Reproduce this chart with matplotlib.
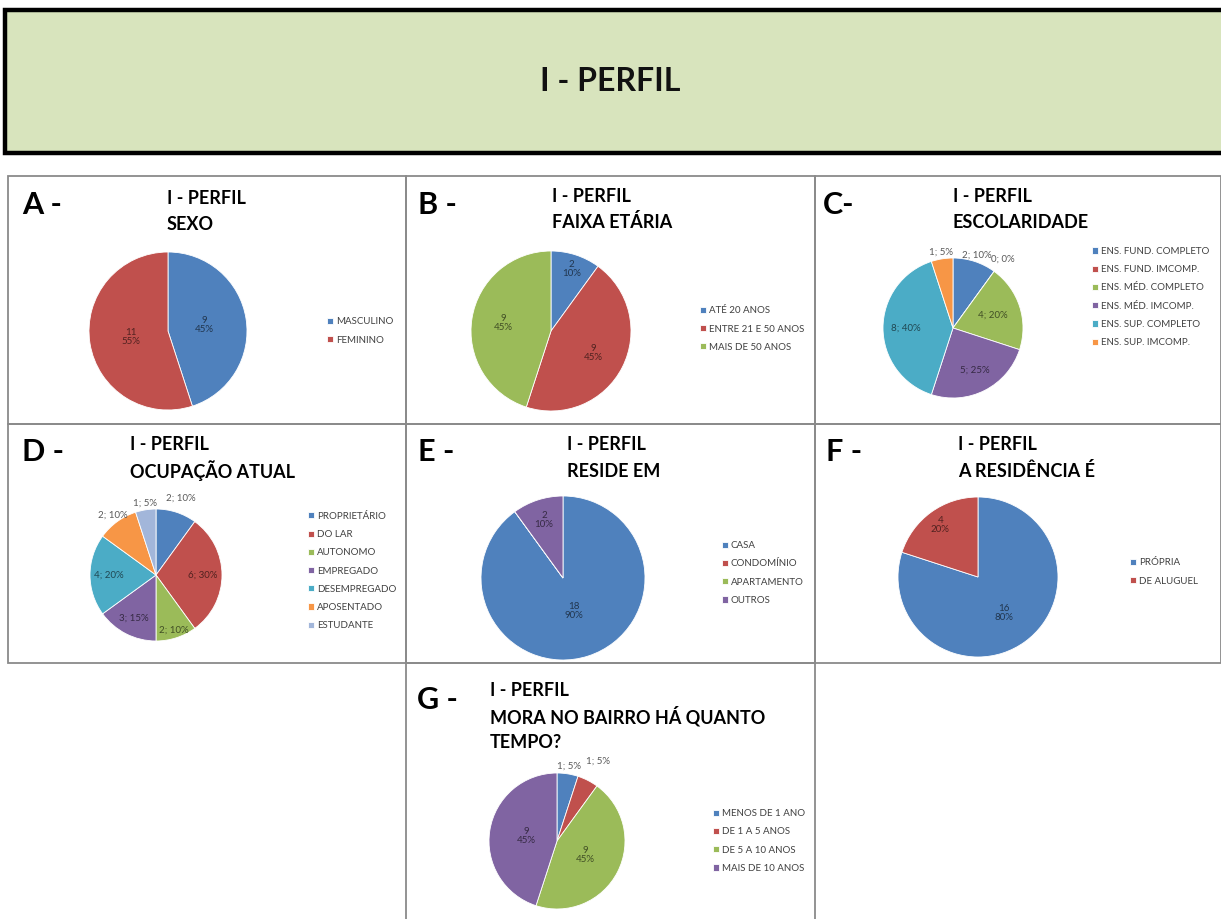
import numpy as np
import matplotlib
matplotlib.use("Agg")
import matplotlib.pyplot as plt
from matplotlib.patches import Rectangle
from matplotlib.colors import to_rgb

plt.rcParams['font.family'] = ['Lato', 'DejaVu Sans']

W, H = 1221, 919

# dados
sexo_labels = ['MASCULINO', 'FEMININO']
sexo_vals = [9, 11]

faixa_labels = ['ATÉ 20 ANOS', 'ENTRE 21 E 50 ANOS', 'MAIS DE 50 ANOS']
faixa_vals = [2, 9, 9]

escol_labels = ['ENS. FUND. COMPLETO', 'ENS. FUND. IMCOMP.', 'ENS. MÉD. COMPLETO',
                'ENS. MÉD. IMCOMP.', 'ENS. SUP. COMPLETO', 'ENS. SUP. IMCOMP.']
escol_vals = [2, 0, 4, 5, 8, 1]

ocup_labels = ['PROPRIETÁRIO', 'DO LAR', 'AUTONOMO', 'EMPREGADO',
               'DESEMPREGADO', 'APOSENTADO', 'ESTUDANTE']
ocup_vals = [2, 6, 2, 3, 4, 2, 1]

reside_labels = ['CASA', 'CONDOMÍNIO', 'APARTAMENTO', 'OUTROS']
reside_vals = [18, 0, 0, 2]

residencia_labels = ['PRÓPRIA', 'DE ALUGUEL']
residencia_vals = [16, 4]

tempo_labels = ['MENOS DE 1 ANO', 'DE 1 A 5 ANOS', 'DE 5 A 10 ANOS', 'MAIS DE 10 ANOS']
tempo_vals = [1, 1, 9, 9]

cores = ['#4F81BD', '#C0504D', '#9BBB59', '#8064A2', '#4BACC6', '#F79646', '#A2B6DA']


def fx(x):
    return x / W


def fy(y):
    return 1 - y / H


fig = plt.figure(figsize=(W / 100, H / 100), dpi=100)
fig.patch.set_facecolor('white')

# cabeçalho
fig.add_artist(Rectangle((fx(5), fy(153)), (W + 10) / W, 143 / H, transform=fig.transFigure,
                         facecolor='#D8E4BD', edgecolor='black', linewidth=3.2))
fig.text(fx(610), fy(82), 'I - PERFIL', ha='center', va='center',
         fontsize=23, fontweight='bold', color='#111111')

# molduras dos quadros
quadros = [(8, 176, 406, 424), (406, 176, 815, 424), (815, 176, 1221, 424),
           (8, 424, 406, 663), (406, 424, 815, 663), (815, 424, 1221, 663),
           (406, 663, 815, 925)]
for x0, y0, x1, y1 in quadros:
    fig.add_artist(Rectangle((fx(x0), fy(y1)), (x1 - x0) / W, (y1 - y0) / H,
                             transform=fig.transFigure, facecolor='none',
                             edgecolor='#8A8A8A', linewidth=1.3))

paineis = [
    dict(letra='A -', lpos=(22, 205), titulo=['I - PERFIL', 'SEXO'], tpos=(167, 198),
         vals=sexo_vals, labels=sexo_labels, c=(168, 331), r=79,
         dist=[0.47, 0.48], sep='\n', leg=(327, 331)),
    dict(letra='B -', lpos=(418, 205), titulo=['I - PERFIL', 'FAIXA ETÁRIA'], tpos=(552, 196),
         vals=faixa_vals, labels=faixa_labels, c=(551, 331), r=80,
         dist=[0.82, 0.6, 0.6], sep='\n', leg=(700, 329)),
    dict(letra='C-', lpos=(823, 205), titulo=['I - PERFIL', 'ESCOLARIDADE'], tpos=(953, 196),
         vals=escol_vals, labels=escol_labels, c=(953, 328), r=70,
         dist=[1.1, 1.22, 0.6, 0.68, 0.67, 1.1], sep='; ', leg=(1092, 297)),
    dict(letra='D -', lpos=(22, 452), titulo=['I - PERFIL', 'OCUPAÇÃO ATUAL'], tpos=(130, 445),
         vals=ocup_vals, labels=ocup_labels, c=(156, 575), r=66,
         dist=[1.22, 0.7, 0.88, 0.73, 0.72, 1.12, 1.1], sep='; ', leg=(308, 571)),
    dict(letra='E -', lpos=(418, 452), titulo=['I - PERFIL', 'RESIDE EM'], tpos=(567, 445),
         vals=reside_vals, labels=reside_labels, c=(563, 578), r=82,
         dist=[0.42, None, None, 0.75], sep='\n', leg=(722, 573)),
    dict(letra='F -', lpos=(826, 452), titulo=['I - PERFIL', 'A RESIDÊNCIA É'], tpos=(958, 445),
         vals=residencia_vals, labels=residencia_labels, c=(978, 577), r=80,
         dist=[0.55, 0.8], sep='\n', leg=(1130, 572)),
    dict(letra='G -', lpos=(417, 700), titulo=['I - PERFIL', 'MORA NO BAIRRO HÁ QUANTO', 'TEMPO?'],
         tpos=(490, 690), vals=tempo_vals, labels=tempo_labels, c=(557, 841), r=68,
         dist=[1.12, 1.32, 0.46, 0.46], sep='\n', leg=(713, 841)),
]

for p in paineis:
    fig.text(fx(p['lpos'][0]), fy(p['lpos'][1]), p['letra'], ha='left', va='center',
             fontsize=22, fontweight='bold', color='black')
    tx, ty = p['tpos']
    for i, linha in enumerate(p['titulo']):
        fig.text(fx(tx), fy(ty + 26 * i), linha, ha='left', va='center',
                 fontsize=13, fontweight='bold', color='black')

    cx, cy = p['c']
    r = p['r']
    ax = fig.add_axes([fx(cx - r), fy(cy + r), 2 * r / W, 2 * r / H])
    vals = p['vals']
    cs = cores[:len(vals)]
    wedges, _ = ax.pie(vals, colors=cs, startangle=90, counterclock=False, radius=1,
                       wedgeprops=dict(edgecolor='white', linewidth=0.6))
    ax.set_xlim(-1, 1)
    ax.set_ylim(-1, 1)

    total = sum(vals)
    for w, v, d, cor in zip(wedges, vals, p['dist'], cs):
        if d is None:
            continue
        ang = np.deg2rad((w.theta1 + w.theta2) / 2)
        pct = round(100 * v / total)
        if d > 1:
            txt = f'{v}; {pct}%'
            tc = '#595959'
        else:
            txt = f'{v}{p["sep"]}{pct}%'
            tc = tuple(0.42 * k for k in to_rgb(cor))
        ax.text(d * np.cos(ang), d * np.sin(ang), txt, ha='center', va='center',
                fontsize=7, color=tc, linespacing=1.0, clip_on=False)

    lx, ly = p['leg']
    fig.legend(wedges, p['labels'], loc='center left',
               bbox_to_anchor=(fx(lx), fy(ly)), bbox_transform=fig.transFigure,
               frameon=False, fontsize=7, handlelength=0.6, handleheight=0.6,
               handletextpad=0.3, labelspacing=0.95, borderpad=0, borderaxespad=0,
               labelcolor='#404040')

fig.savefig('out.png', dpi=100, facecolor='white')
